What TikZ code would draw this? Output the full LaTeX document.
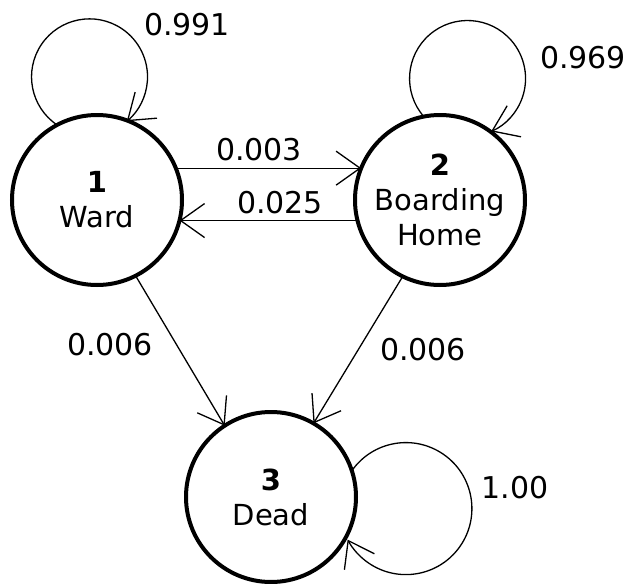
\documentclass[tikz,border=0pt]{standalone}
\usepackage{fontspec}
\setmainfont{DejaVu Sans}
\usetikzlibrary{arrows.meta,positioning}
\tikzstyle{arrow} = [line width=1.3pt,-{Straight Barb[length=24pt,width=34pt,line width=1.3pt]}]
\tikzstyle{state} = [circle, draw, line width=4pt, minimum size=170pt, inner sep=0pt, outer sep=0pt, align=center, font=\fontsize{29}{35}\selectfont]
\tikzstyle{prob} = [font=\fontsize{30}{34}\selectfont, inner sep=0pt]

\begin{document}
\begin{tikzpicture}[x=1pt,y=1pt]
\useasboundingbox (0,0) rectangle (633,-584);
% States
\node[state] (ward) at (97,-200) {\textbf{1}\\Ward};
\node[state] (home) at (440,-200) {\textbf{2}\\Boarding\\Home};
\node[state] (dead) at (271,-497) {\textbf{3}\\Dead};

% Transitions
\draw[arrow] (ward.22) -- (home.158);
\draw[arrow] (home.194) -- (ward.-14);
\draw[arrow] (ward.-63) -- (dead.123);
\draw[arrow] (home.-116) -- (dead.60);

% Self loops
\draw[arrow] (ward.118) arc[start angle=236, end angle=-50, radius=58];
\draw[arrow] (home.101) arc[start angle=221, end angle=-66, radius=58];
\draw[arrow] (dead.18) arc[start angle=145, end angle=-152, radius=66];

% Probabilities
\node[prob] (p11) at (187,-25) {0.991};
\node[prob] (p22) at (583,-58) {0.969};
\node[prob] (p12) at (259,-150) {0.003};
\node[prob] (p21) at (280,-203) {0.025};
\node[prob] (p13) at (110,-345) {0.006};
\node[prob] (p23) at (423,-350) {0.006};
\node[prob] (p33) at (515,-488) {1.00};
\end{tikzpicture}
\end{document}
